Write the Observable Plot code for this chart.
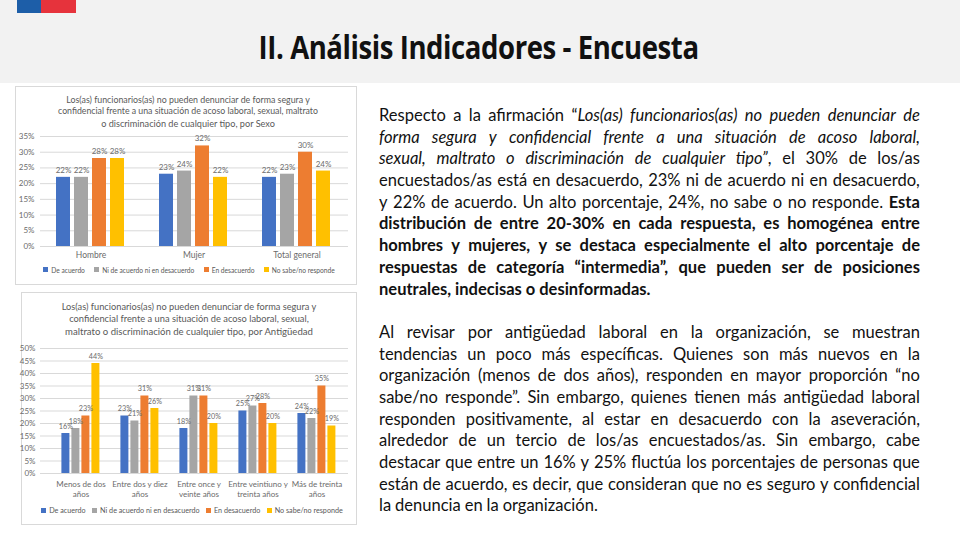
<!DOCTYPE html>
<html><head><meta charset="utf-8">
<script src="https://cdn.jsdelivr.net/npm/d3@7"></script>
<script src="https://cdn.jsdelivr.net/npm/@observablehq/plot@0.6"></script>
<style>
html,body{margin:0;padding:0}
body{width:960px;height:540px;position:relative;overflow:hidden;background:#fff;font-family:Lato,"Open Sans",sans-serif;}
.abs{position:absolute}
.box{position:absolute;border:1px solid #d9d9d9;box-sizing:border-box;background:#fff}
.ctitle{position:absolute;left:0;width:360px;display:flex;justify-content:center;color:#595959;white-space:nowrap;line-height:1}
.legwrap{position:absolute;left:0;width:374px;display:flex;justify-content:center;line-height:1}
.legend{display:flex;color:#595959;white-space:nowrap;line-height:1;align-items:center}
.legend .it{display:flex;align-items:center}
.legend .sw{width:5px;height:5px;margin-right:3px}
.ln{display:flex;white-space:nowrap;height:21.7px;line-height:21.7px;align-items:center}
.ln.j{justify-content:space-between}
.ln.l{justify-content:flex-start;column-gap:0.24em}
.i{font-style:italic}.b{font-weight:bold}
.chart{position:absolute;left:0;width:360px}
.chart svg{position:absolute;left:0;top:0;overflow:visible;max-width:none!important}
</style></head><body>
<div class="abs" style="left:0;top:0;width:960px;height:83px;background:#f2f2f2"></div>
<div class="abs" style="left:17px;top:0;width:24px;height:13px;background:#1d5ea8"></div>
<div class="abs" style="left:41px;top:0;width:35px;height:13px;background:#e6333c"></div>
<div class="abs" style="left:0;top:31px;width:958px;display:flex;justify-content:center;line-height:1"><span id="htitle" style="display:inline-block;font-family:'Open Sans',sans-serif;font-weight:bold;font-size:32px;color:#111;transform-origin:center;letter-spacing:-0.5px">II. Análisis Indicadores - Encuesta</span></div>

<div class="box" style="left:15px;top:86px;width:342px;height:199px"></div>
<div class="box" style="left:21px;top:292px;width:336px;height:233px"></div>
<div id="c1" class="chart" style="top:130px;height:132px"></div>
<div id="c2" class="chart" style="top:340px;height:161px"></div>
<div id="txt" class="abs" style="left:379px;top:105px;width:541px;color:#111"></div>

<script>
// ---------- data ----------
const series = ["De acuerdo","Ni de acuerdo ni en desacuerdo","En desacuerdo","No sabe/no responde"];
const colors = ["#4472C4","#A5A5A5","#ED7D31","#FFC000"];

const sexGroups = ["Hombre","Mujer","Total general"];
const sexDeAcuerdo   = [22,23,22];
const sexNi          = [22,24,23];
const sexDesacuerdo  = [28,32,30];
const sexNoSabe      = [28,22,24];
const yTicks1 = [0,5,10,15,20,25,30,35];

const ageGroups = ["Menos de dos años","Entre dos y diez años","Entre once y veinte años","Entre veintiuno y treinta años","Más de treinta años"];
const ageLabels = ["Menos de dos\naños","Entre dos y diez\naños","Entre once y\nveinte años","Entre veintiuno y\ntreinta años","Más de treinta\naños"];
const ageDeAcuerdo  = [16,23,18,25,24];
const ageNi         = [18,21,31,27,22];
const ageDesacuerdo = [23,31,31,28,35];
const ageNoSabe     = [44,26,20,20,19];
const yTicks2 = [0,5,10,15,20,25,30,35,40,45,50];

const title1 = ["Los(as) funcionarios(as) no pueden denunciar de forma segura y","confidencial frente a una situación de acoso laboral, sexual, maltrato","o discriminación de cualquier tipo, por Sexo"];
const title2 = ["Los(as) funcionarios(as) no pueden denunciar de forma segura y","confidencial frente a una situación de acoso laboral, sexual,","maltrato o discriminación de cualquier tipo, por Antigüedad"];

function table(groups, arrs){
  const out=[];
  groups.forEach((g,gi)=>arrs.forEach((a,si)=>out.push({group:g, series:series[si], value:a[gi]})));
  return out;
}
const data1 = table(sexGroups,[sexDeAcuerdo,sexNi,sexDesacuerdo,sexNoSabe]);
const data2 = table(ageGroups,[ageDeAcuerdo,ageNi,ageDesacuerdo,ageNoSabe]);

const font = "Lato, sans-serif";

function gridPlot(ticks, dom, h, mt, mb, ml, mr, pad){
  return Plot.plot({
    width:360, height:h, marginLeft:ml, marginRight:mr, marginTop:mt, marginBottom:mb,
    style:{fontFamily:font, fontSize:"8px", color:"#6b6b6b", background:"transparent"},
    x:{axis:null},
    y:{domain:dom, ticks:ticks, tickFormat:d=>d+"%", tickSize:0, tickPadding:pad, label:null},
    marks:[Plot.ruleY(ticks,{stroke:"#d9d9d9", strokeWidth:1})]
  });
}
function barPlot(data, groups, labels, dom, h, mt, mb, ml, mr, ldy, tdy, fs, gfs, lh){
  return Plot.plot({
    width:360, height:h, marginLeft:ml, marginRight:mr, marginTop:mt, marginBottom:mb,
    style:{fontFamily:font, fontSize:"8.5px", color:"#595959", background:"transparent"},
    fx:{domain:groups, paddingInner:0.31, paddingOuter:0.155, axis:null, label:null},
    x:{domain:series, paddingInner:0.2, paddingOuter:0, axis:null},
    y:{domain:dom, axis:null},
    color:{domain:series, range:colors},
    marks:[
      Plot.barY(data,{fx:"group", x:"series", y:"value", fill:"series"}),
      Plot.text(data,{fx:"group", x:"series", y:"value", text:d=>d.value+"%", dy:ldy, fill:"#6b6b6b", fontSize:fs}),
      Plot.text(groups,{fx:d=>d, text:d=>labels[groups.indexOf(d)], frameAnchor:"bottom", lineAnchor:"top", dy:tdy, fill:"#6b6b6b", fontSize:gfs, lineHeight:lh})
    ]
  });
}

const c1 = document.getElementById("c1");
const c2 = document.getElementById("c2");
c1.append(gridPlot(yTicks1,[0,35],132,6,16,40,12,6), barPlot(data1,sexGroups,sexGroups,[0,35],132,6,16,38,11,-7,4.5,8,8.5,1.2));
c2.append(gridPlot(yTicks2,[0,50],161,8,28,40,12,5), barPlot(data2,ageGroups,ageLabels,[0,50],161,8,28,48.6,12.6,-7,5.5,7.2,8,1.35));

// chart titles
function addTitle(lines, tops, widths, cx){
  lines.forEach((t,i)=>{
    const d=document.createElement("div"); d.className="ctitle";
    d.style.top=tops[i]+"px"; d.style.left=(cx-180)+"px";
    const s=document.createElement("span"); s.textContent=t; s.style.fontSize="10px";
    d.append(s); document.body.append(d);
    s.dataset.target=widths[i];
  });
}
addTitle(title1,[95.5,106.5,119],[244,260,174],188);
addTitle(title2,[302,314,327],[255,240,248],189);

// legends
function addLegend(top, cx, gap, target){
  const w=document.createElement("div"); w.className="legwrap";
  w.style.top=top+"px"; w.style.left=(cx-187)+"px";
  const d=document.createElement("div"); d.className="legend";
  d.style.fontSize="9px"; d.style.columnGap=gap+"em"; d.dataset.target=target;
  series.forEach((s,i)=>{
    const it=document.createElement("div"); it.className="it";
    const sw=document.createElement("div"); sw.className="sw"; sw.style.background=colors[i];
    const tx=document.createElement("span"); tx.textContent=s;
    it.append(sw,tx); d.append(it);
  });
  w.append(d); document.body.append(w);
}
addLegend(266.5,189,1.4,284);
addLegend(507,192,0.9,296);

// body text
const P1 = [
 [["Respecto a la afirmación “",""],["Los(as) funcionarios(as) no pueden denunciar de","i"]],
 [["forma segura y confidencial frente a una situación de acoso laboral,","i"]],
 [["sexual, maltrato o discriminación de cualquier tipo”","i"],[", el 30% de los/as",""]],
 [["encuestados/as está en desacuerdo, 23% ni de acuerdo ni en desacuerdo,",""]],
 [["y 22% de acuerdo. Un alto porcentaje, 24%, no sabe o no responde. ",""],["Esta","b"]],
 [["distribución de entre 20-30% en cada respuesta, es homogénea entre","b"]],
 [["hombres y mujeres, y se destaca especialmente el alto porcentaje de","b"]],
 [["respuestas de categoría “intermedia”, que pueden ser de posiciones","b"]],
 [["neutrales, indecisas o desinformadas.","b"]]
];
const P2 = [
 [["Al revisar por antigüedad laboral en la organización, se muestran",""]],
 [["tendencias un poco más específicas. Quienes son más nuevos en la",""]],
 [["organización (menos de dos años), responden en mayor proporción “no",""]],
 [["sabe/no responde”. Sin embargo, quienes tienen más antigüedad laboral",""]],
 [["responden positivamente, al estar en desacuerdo con la aseveración,",""]],
 [["alrededor de un tercio de los/as encuestados/as. Sin embargo, cabe",""]],
 [["destacar que entre un 16% y 25% fluctúa los porcentajes de personas que",""]],
 [["están de acuerdo, es decir, que consideran que no es seguro y confidencial",""]],
 [["la denuncia en la organización.",""]]
];
function words(line){
  const ws=[[]];
  for(const [t,s] of line){ t.split(" ").forEach((p,i)=>{ if(i>0) ws.push([]); if(p) ws[ws.length-1].push([p,s]); }); }
  return ws.filter(w=>w.length);
}
const txt=document.getElementById("txt");
function addPara(P){
  P.forEach((line,li)=>{
    const d=document.createElement("div"); d.className="ln "+(li===P.length-1?"l":"j");
    words(line).forEach(w=>{
      const ws=document.createElement("span");
      w.forEach(([t,s])=>{ const sp=document.createElement("span"); sp.textContent=t; if(s) sp.className=s; ws.append(sp); });
      d.append(ws);
    });
    txt.append(d);
  });
}
addPara(P1);
const sp=document.createElement("div"); sp.style.height="21.7px"; txt.append(sp);
addPara(P2);

function fitAll(){
  const h=document.getElementById("htitle");
  h.style.transform="none";
  h.style.transform="scaleX("+(440/h.getBoundingClientRect().width)+")";
  document.querySelectorAll(".ctitle span").forEach(s=>{
    s.style.fontSize="10px";
    s.style.fontSize=(10*(+s.dataset.target)/s.getBoundingClientRect().width)+"px";
  });
  document.querySelectorAll(".legend").forEach(l=>{
    l.style.fontSize="9px";
    l.style.fontSize=(9*(+l.dataset.target)/l.getBoundingClientRect().width)+"px";
  });
  const m=document.createElement("span"); m.style.font="100px Lato"; m.style.whiteSpace="nowrap"; m.style.position="absolute"; m.style.visibility="hidden";
  m.textContent="están de acuerdo, es decir, que consideran que no es seguro y confidencial";
  document.body.append(m);
  const fs=100*536/m.getBoundingClientRect().width; m.remove();
  txt.style.fontSize=fs+"px";
}
fitAll();
if(document.fonts&&document.fonts.ready) document.fonts.ready.then(fitAll);
</script>
</body></html>
